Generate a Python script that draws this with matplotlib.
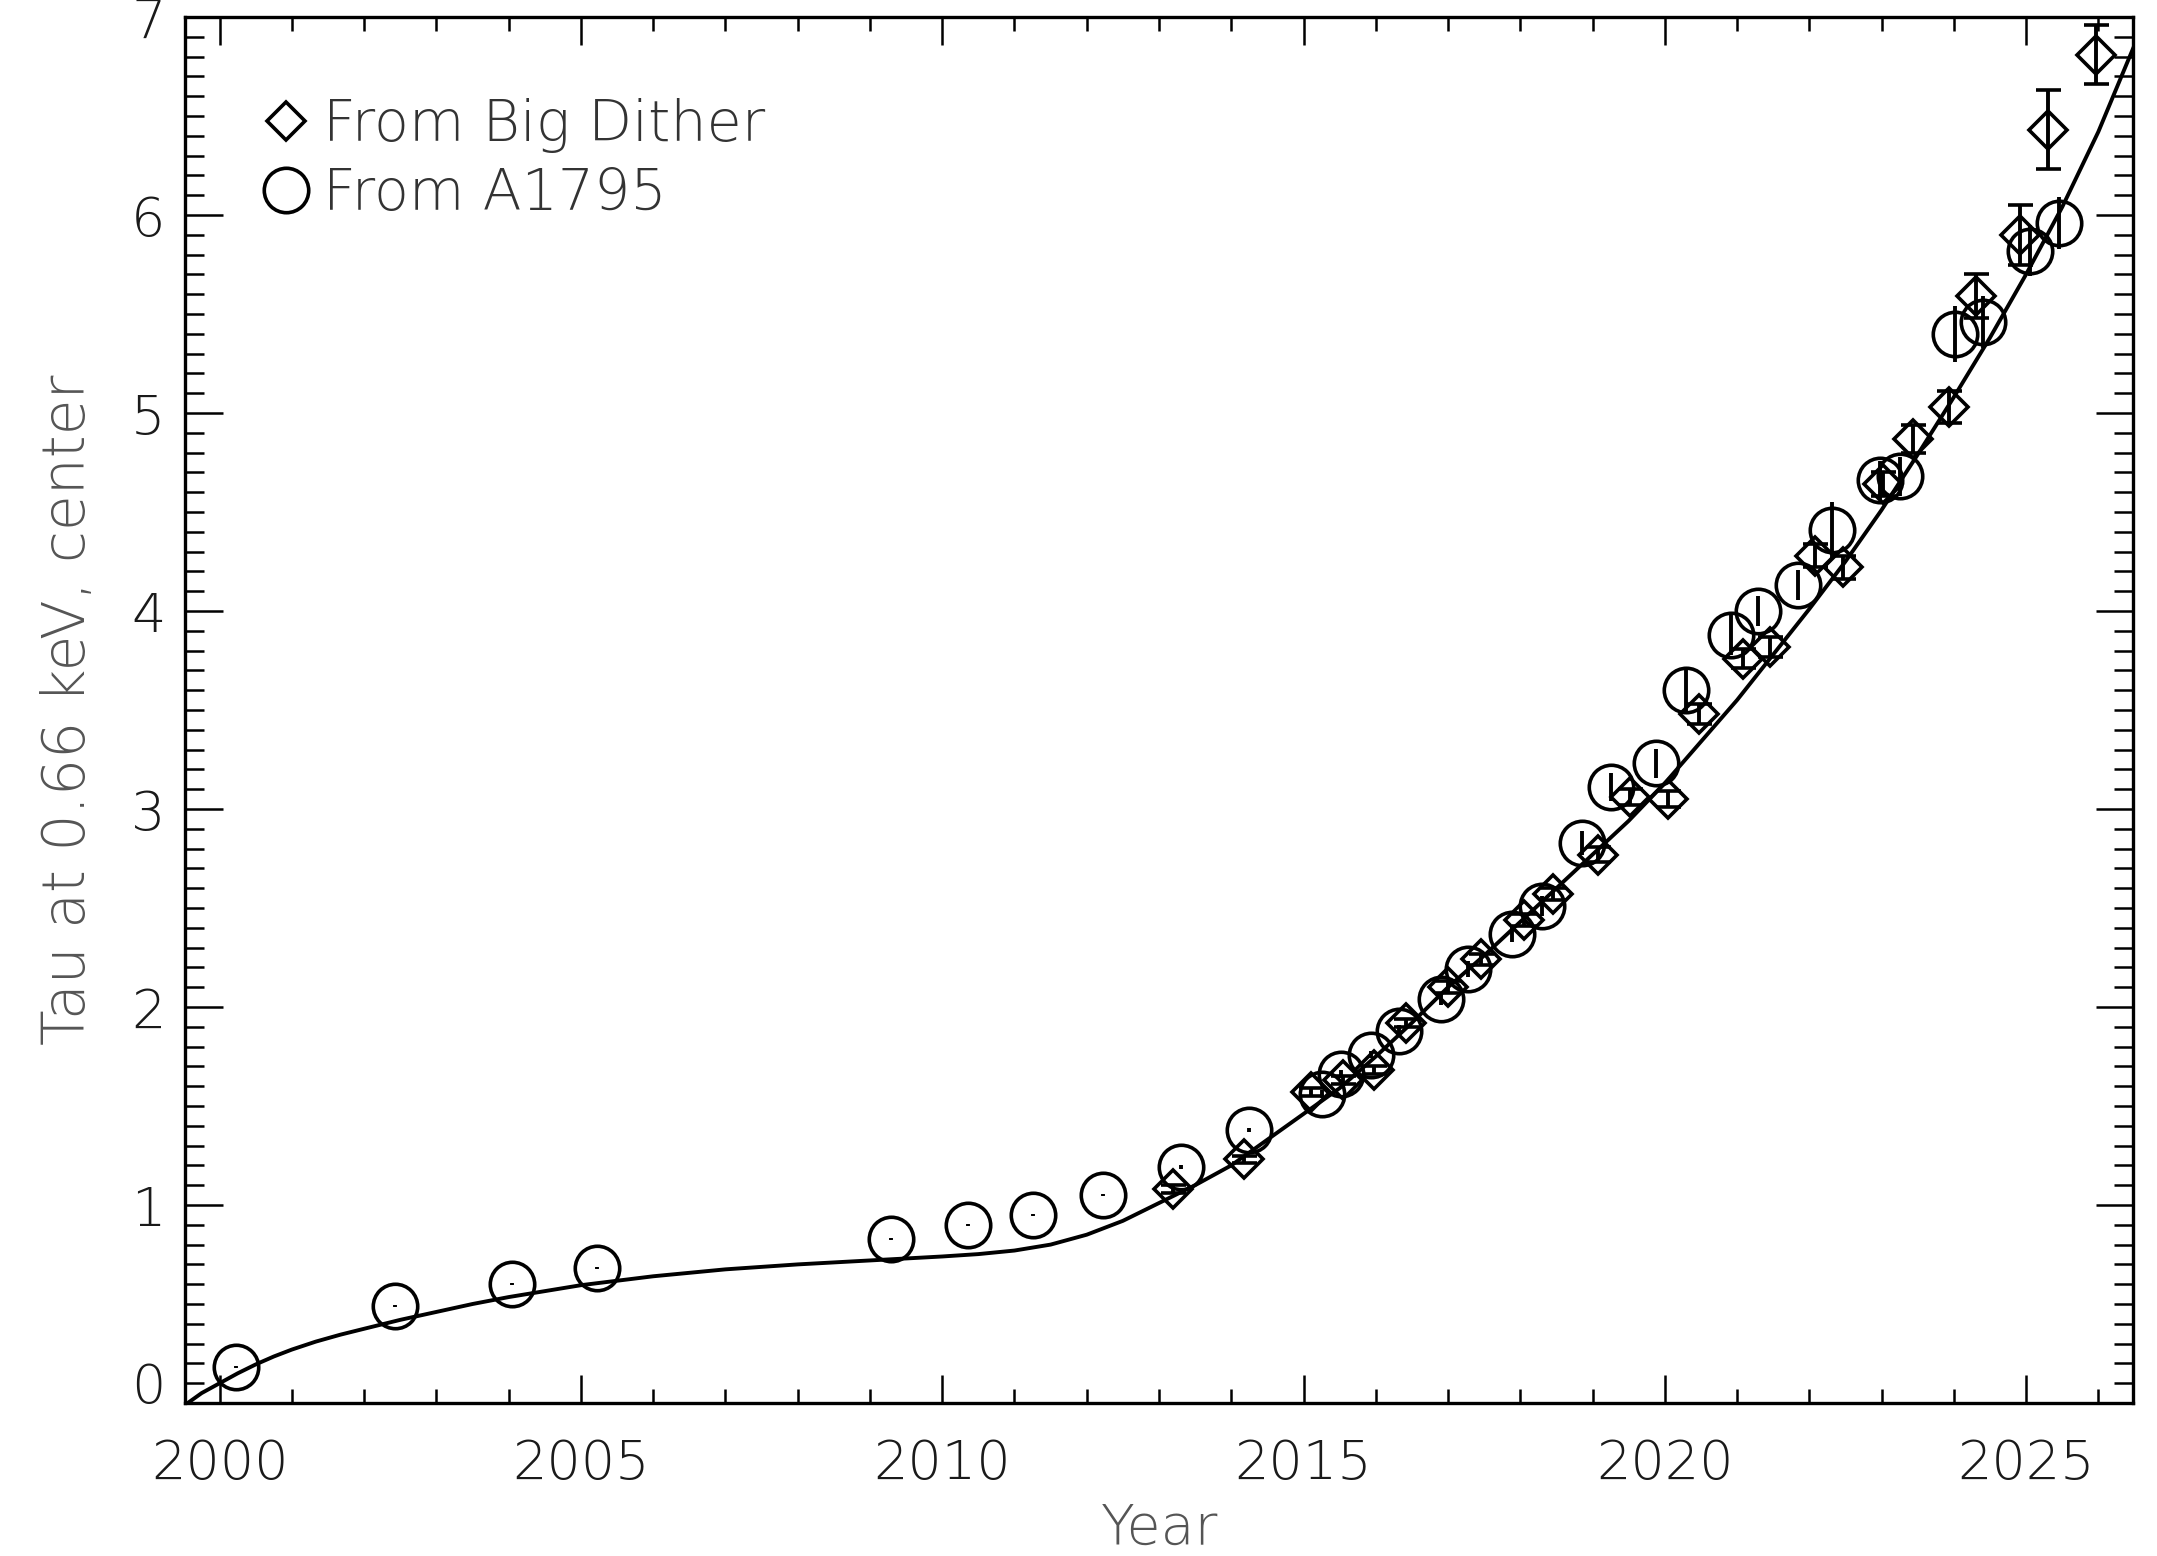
import matplotlib
matplotlib.use("Agg")
import matplotlib.pyplot as plt
from matplotlib.lines import Line2D
from matplotlib.ticker import MultipleLocator

plt.rcParams['font.family'] = ['DejaVu Sans']

# A1795 points (circles)
a_year = [2000.22, 2002.43, 2004.04, 2005.22, 2009.29, 2010.36, 2011.25, 2012.23,
          2013.31, 2014.25, 2015.25, 2015.52, 2015.94, 2016.32, 2016.90, 2017.27,
          2017.88, 2018.30, 2018.85, 2019.25, 2019.88, 2020.30, 2020.92, 2021.29,
          2021.85, 2022.31, 2022.98, 2023.26, 2024.01, 2024.41, 2025.06, 2025.46]
a_tau = [0.18, 0.49, 0.60, 0.68, 0.83, 0.90, 0.95, 1.05,
         1.19, 1.38, 1.56, 1.66, 1.76, 1.88, 2.04, 2.19,
         2.37, 2.51, 2.83, 3.11, 3.23, 3.60, 3.88, 4.00,
         4.13, 4.41, 4.66, 4.68, 5.40, 5.46, 5.82, 5.96]
a_err = [0.005, 0.005, 0.005, 0.005, 0.005, 0.005, 0.005, 0.005,
         0.01, 0.01, 0.02, 0.02, 0.02, 0.03, 0.03, 0.04,
         0.04, 0.05, 0.06, 0.07, 0.075, 0.11, 0.10, 0.075,
         0.075, 0.14, 0.10, 0.10, 0.14, 0.13, 0.13, 0.13]

# Big Dither points (diamonds)
d_year = [2013.20, 2014.18, 2015.10, 2015.55, 2015.98, 2016.42, 2017.00, 2017.46,
          2018.05, 2018.45, 2019.08, 2019.52, 2020.04, 2020.47, 2021.08, 2021.45,
          2022.08, 2022.47, 2023.02, 2023.43, 2023.94, 2024.31, 2024.91, 2025.30,
          2025.97]
d_tau = [1.08, 1.23, 1.57, 1.63, 1.68, 1.92, 2.10, 2.24,
         2.44, 2.57, 2.77, 3.06, 3.05, 3.48, 3.76, 3.82,
         4.28, 4.22, 4.64, 4.87, 5.03, 5.59, 5.90, 6.43,
         6.81]
d_err = [0.02, 0.02, 0.02, 0.02, 0.02, 0.02, 0.03, 0.03,
         0.03, 0.03, 0.04, 0.04, 0.04, 0.05, 0.05, 0.05,
         0.06, 0.06, 0.06, 0.07, 0.08, 0.11, 0.15, 0.20,
         0.15]

# model curve
fit_year = [1999.52, 1999.75, 2000.0, 2000.25, 2000.5, 2000.75, 2001.0, 2001.33,
            2001.67, 2002.0, 2002.5, 2003.0, 2003.5, 2004.0, 2005.0, 2006.0,
            2007.0, 2008.0, 2009.0, 2010.0, 2010.5, 2011.0, 2011.5, 2012.0,
            2012.5, 2013.0, 2013.5, 2014.0, 2014.5, 2015.0, 2015.5, 2016.0,
            2016.5, 2017.0, 2017.5, 2018.0, 2018.5, 2019.0, 2019.5, 2020.0,
            2020.5, 2021.0, 2021.5, 2022.0, 2022.5, 2023.0, 2023.5, 2024.0,
            2024.5, 2025.0, 2025.5, 2026.0, 2026.48]
fit_tau = [-0.01, 0.05, 0.10, 0.15, 0.195, 0.235, 0.27, 0.31,
           0.345, 0.375, 0.42, 0.46, 0.50, 0.535, 0.595, 0.64,
           0.675, 0.70, 0.72, 0.74, 0.752, 0.77, 0.80, 0.85,
           0.92, 1.01, 1.10, 1.20, 1.33, 1.46, 1.59, 1.75,
           1.92, 2.10, 2.26, 2.43, 2.60, 2.77, 2.94, 3.13,
           3.34, 3.55, 3.78, 4.01, 4.25, 4.51, 4.79, 5.08,
           5.38, 5.70, 6.04, 6.42, 6.84]

fig = plt.figure(figsize=(21.57, 15.56), dpi=100)
ax = fig.add_axes([185 / 2157, 1 - 1403 / 1556, 1948 / 2157, 1386 / 1556])

ax.plot(fit_year, fit_tau, color='black', lw=2.8, zorder=2)

ax.errorbar(d_year, d_tau, yerr=d_err, fmt='D', ms=19, mfc='none', mec='black',
            mew=2.6, ecolor='black', elinewidth=2.8, capsize=9, capthick=2.6, zorder=3)
ax.errorbar(a_year, a_tau, yerr=a_err, fmt='o', ms=32, mfc='none', mec='black',
            mew=2.6, ecolor='black', elinewidth=2.8, capsize=0, zorder=3)

ax.set_xlim(1999.52, 2026.48)
ax.set_ylim(0, 7)
ax.xaxis.set_major_locator(MultipleLocator(5))
ax.xaxis.set_minor_locator(MultipleLocator(1))
ax.yaxis.set_major_locator(MultipleLocator(1))
ax.yaxis.set_minor_locator(MultipleLocator(0.1))

ax.tick_params(axis='both', which='both', direction='in', top=True, right=True,
               width=1.8, colors='black', labelcolor='#1a1a1a', labelsize=39)
ax.tick_params(axis='x', which='major', length=20, pad=25)
ax.tick_params(axis='x', which='minor', length=10)
ax.tick_params(axis='y', which='major', length=27, pad=14)
ax.tick_params(axis='y', which='minor', length=13.5)
for s in ax.spines.values():
    s.set_linewidth(2.4)

for lab in ax.get_xticklabels() + ax.get_yticklabels():
    lab.set_fontweight('light')
ax.set_yticks(range(0, 8))
ax.get_yticklabels()[0].set_va('baseline')

ax.set_xlabel('Year', fontsize=40, color='#555555', fontweight='light', va='top')
ax.xaxis.set_label_coords(0.5, -0.071)
ax.set_ylabel('Tau at 0.66 keV, center', fontsize=42, color='#555555', fontweight='light')
ax.yaxis.set_label_coords(-0.045, 0.5)

handles = [Line2D([], [], ls='none', marker='D', ms=19, mfc='none', mec='black', mew=2.6),
           Line2D([], [], ls='none', marker='o', ms=32, mfc='none', mec='black', mew=2.6)]
leg = ax.legend(handles, ['From Big Dither', 'From A1795'], loc='upper left',
                bbox_to_anchor=(260 / 2157, 1 - 98 / 1556), bbox_transform=fig.transFigure,
                frameon=False, fontsize=41, handlelength=0.9, handletextpad=0.2,
                labelspacing=0.25, borderpad=0, borderaxespad=0)
for t in leg.get_texts():
    t.set_color('#333333')
    t.set_fontweight('light')

fig.savefig('out.png', dpi=100)
